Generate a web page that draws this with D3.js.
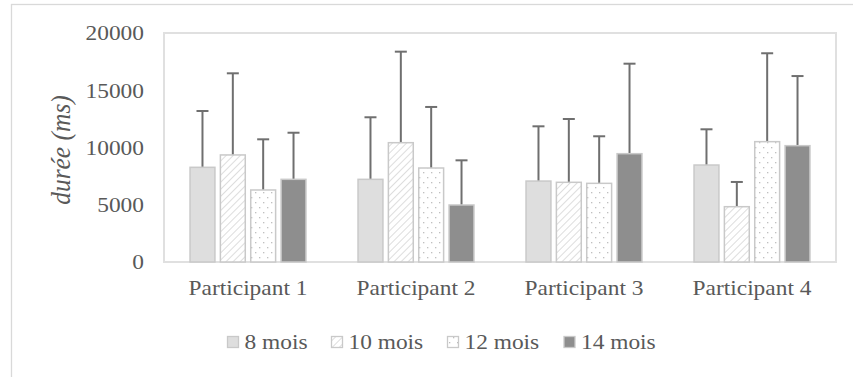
<!DOCTYPE html>
<html><head><meta charset="utf-8">
<script src="https://cdn.jsdelivr.net/npm/d3@7"></script>
<style>body{margin:0;background:#fff}svg{display:block}text{font-family:"Liberation Serif","Times New Roman",serif}</style>
</head><body><svg id="c" width="853" height="377"></svg>
<script>
const participants = ["Participant 1","Participant 2","Participant 3","Participant 4"];
const seriesNames = ["8 mois","10 mois","12 mois","14 mois"];
const means = [
  [8270, 9350, 6290, 7220],
  [7220, 10420, 8210, 4980],
  [7070, 6960, 6870, 9460],
  [8470, 4830, 10510, 10160]
];
const errUpper = [
  [13190, 16480, 10715, 11290],
  [12640, 18370, 13540, 8880],
  [11850, 12490, 10980, 17320],
  [11590, 6990, 18230, 16240]
];
const yTicks = [0, 5000, 10000, 15000, 20000];

const svg = d3.select("#c");
const TXT = "#595959";
const SX = 1.17;

// patterns
const defs = svg.append("defs");
const hatch = defs.append("pattern").attr("id","hatch").attr("patternUnits","userSpaceOnUse")
  .attr("width",5).attr("height",5).attr("patternTransform","rotate(45)");
hatch.append("rect").attr("width",5).attr("height",5).attr("fill","#fff");
hatch.append("line").attr("x1",0).attr("y1",0).attr("x2",0).attr("y2",5).attr("stroke","#cfcfcf").attr("stroke-width",1.4);
const dots = defs.append("pattern").attr("id","dots").attr("patternUnits","userSpaceOnUse")
  .attr("width",8).attr("height",10);
dots.append("rect").attr("width",8).attr("height",10).attr("fill","#fff");
dots.append("rect").attr("x",1).attr("y",2).attr("width",1.3).attr("height",1.3).attr("fill","#bdbdbd");
dots.append("rect").attr("x",5).attr("y",7).attr("width",1.3).attr("height",1.3).attr("fill","#bdbdbd");
const fills = ["#dedede","url(#hatch)","url(#dots)","#8e8e8e"];

// outer border
svg.append("rect").attr("x",11.5).attr("y",4.5).attr("width",860).attr("height",400)
  .attr("fill","none").attr("stroke","#d9d9d9").attr("stroke-width",1.3);

const x0 = d3.scaleBand().domain(participants).range([164,836]).paddingInner(0.31).paddingOuter(0.155);
const x1 = d3.scaleBand().domain(seriesNames).range([0,x0.bandwidth()]).paddingInner(0.18);
const y = d3.scaleLinear().domain([0,20000]).range([262,33]);

// plot box
svg.append("rect").attr("x",164).attr("y",33).attr("width",672).attr("height",229)
  .attr("fill","none").attr("stroke","#e0e0e0").attr("stroke-width",2);

// y axis labels
const yAxis = d3.axisLeft(y).tickValues(yTicks).tickSize(0).tickPadding(0).tickFormat(d3.format("d"));
const gy = svg.append("g").attr("transform","translate(144,0)").call(yAxis);
gy.select(".domain").remove();
gy.selectAll("text").attr("font-family",null).attr("font-size",20).attr("fill",TXT)
  .attr("transform",`scale(${SX},1)`).attr("dy","0.34em");

// y title
svg.append("text").attr("transform","translate(70,150) rotate(-90) scale(1,1.05)")
  .attr("text-anchor","middle").attr("font-style","italic")
  .attr("font-size",25.5).attr("fill",TXT).text("durée (ms)");

// bars
const groups = svg.selectAll("g.grp").data(participants).join("g").attr("class","grp")
  .attr("transform",d=>`translate(${x0(d)},0)`);
groups.each(function(p,pi){
  const g = d3.select(this);
  seriesNames.forEach((s,si)=>{
    const v = means[pi][si], e = errUpper[pi][si];
    const bx = x1(s), bw = x1.bandwidth(), cx = bx + bw/2;
    g.append("line").attr("x1",cx).attr("x2",cx).attr("y1",y(v)).attr("y2",y(e))
      .attr("stroke","#6f6f6f").attr("stroke-width",2);
    g.append("line").attr("x1",cx-6).attr("x2",cx+6).attr("y1",y(e)).attr("y2",y(e))
      .attr("stroke","#6f6f6f").attr("stroke-width",2);
    g.append("rect").attr("x",bx).attr("y",y(v)).attr("width",bw).attr("height",y(0)-y(v))
      .attr("fill",fills[si]).attr("stroke","#c9c9c9").attr("stroke-width",1.5);
  });
});

// x axis labels
const xAxis = d3.axisBottom(x0).tickSize(0).tickPadding(0);
const gx = svg.append("g").attr("transform","translate(0,293)").call(xAxis);
gx.select(".domain").remove();
gx.selectAll("text").attr("font-family",null).attr("font-size",20).attr("fill",TXT)
  .attr("dy","0.1em").attr("transform",`scale(${SX},1)`).attr("x",0);

// legend
const legX = [227.5, 331.5, 447.5, 564];
const lg = svg.append("g");
seriesNames.forEach((s,i)=>{
  lg.append("rect").attr("x",legX[i]).attr("y",336.5).attr("width",11).attr("height",11)
    .attr("fill",fills[i]).attr("stroke","#c9c9c9").attr("stroke-width",1.3);
  lg.append("text").attr("transform",`translate(${legX[i]+17},349) scale(${SX},1)`)
    .attr("font-size",20).attr("fill",TXT).text(s);
});
</script></body></html>
